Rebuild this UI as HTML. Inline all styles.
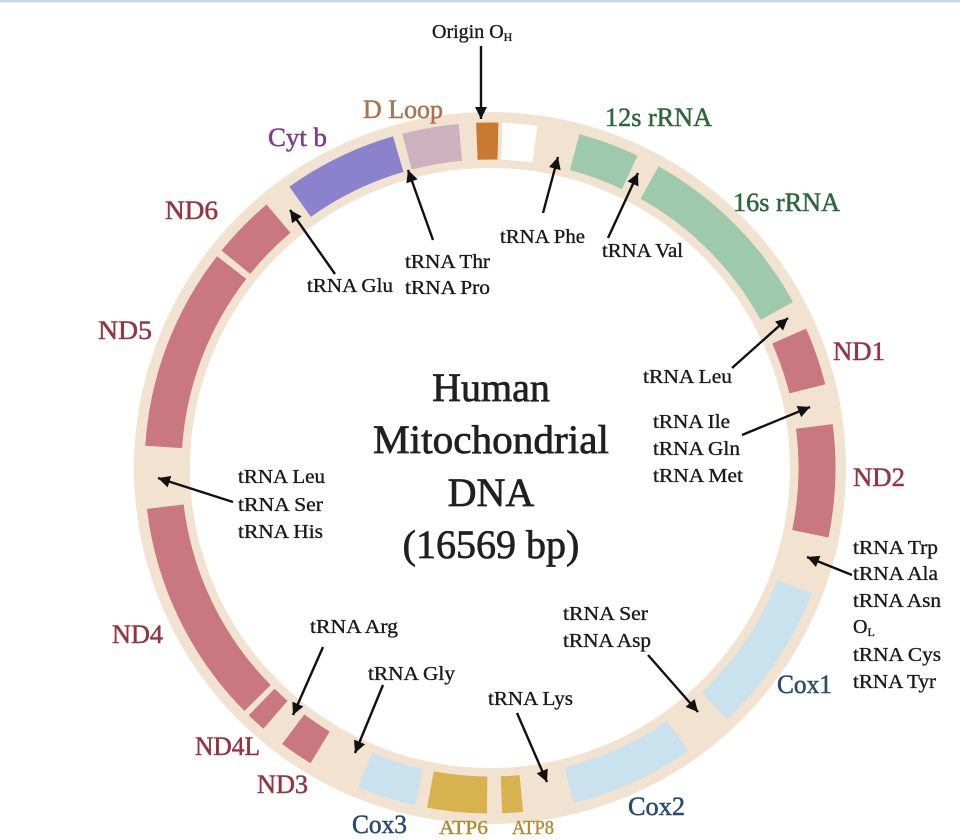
<!DOCTYPE html>
<html>
<head>
<meta charset="utf-8">
<style>
html,body{margin:0;padding:0;background:#fff;width:960px;height:840px;overflow:hidden;}
svg{display:block;}
text{font-family:"Liberation Serif",serif;}
.t{font-size:20px;fill:#1a1a1a;stroke:#1a1a1a;stroke-width:0.35px;}
.g{font-size:26px;stroke-width:0.5px;}
.nd{fill:#953442;stroke:#953442;}
.cx{fill:#284a6c;stroke:#284a6c;}
.rr{fill:#2c683a;stroke:#2c683a;}
.atp{fill:#b08a34;stroke:#b08a34;stroke-width:0.4px;font-size:20px;}
</style>
</head>
<body>
<svg width="960" height="840" viewBox="0 0 960 840" xmlns="http://www.w3.org/2000/svg">
<defs>
<marker id="ah" viewBox="0 0 10 10" refX="10" refY="5" markerWidth="14" markerHeight="12" markerUnits="userSpaceOnUse" orient="auto">
<path d="M0,0 L10,5 L0,10 z" fill="#111"/>
</marker>
</defs>
<rect x="0" y="0" width="960" height="840" fill="#fff"/>
<rect x="0" y="0" width="960" height="2.5" fill="#c8d8e6"/>

<!-- ring -->
<circle cx="490" cy="468" r="328" fill="none" stroke="#f2e3d1" stroke-width="56"/>

<!-- segments -->
<g fill="none" stroke-width="37">
<circle cx="490" cy="468" r="327" stroke="#c9782f" stroke-dasharray="21.12 3000" transform="rotate(-92.3 490 468)"/>
<circle cx="490" cy="468" r="327" stroke="#ffffff" stroke-dasharray="33.10 3000" transform="rotate(-87.9 490 468)"/>
<circle cx="490" cy="468" r="327" stroke="#cdb1be" stroke-dasharray="54.22 3000" transform="rotate(-104.7 490 468)"/>
<circle cx="490" cy="468" r="327" stroke="#8a82cc" stroke-dasharray="109.58 3000" transform="rotate(-125.5 490 468)"/>
<circle cx="490" cy="468" r="327" stroke="#c9787f" stroke-dasharray="61.07 3000" transform="rotate(-141 490 468)"/>
<circle cx="490" cy="468" r="327" stroke="#c9787f" stroke-dasharray="194.62 3000" transform="rotate(-176.3 490 468)"/>
<circle cx="490" cy="468" r="327" stroke="#c9787f" stroke-dasharray="216.30 3000" transform="rotate(-224.7 490 468)"/>
<circle cx="490" cy="468" r="327" stroke="#c9787f" stroke-dasharray="18.83 3000" transform="rotate(131 490 468)"/>
<circle cx="490" cy="468" r="327" stroke="#c9787f" stroke-dasharray="32.53 3000" transform="rotate(121.3 490 468)"/>
<circle cx="490" cy="468" r="327" stroke="#c9e2ee" stroke-dasharray="57.07 3000" transform="rotate(102.5 490 468)"/>
<circle cx="490" cy="468" r="327" stroke="#d8b24e" stroke-dasharray="57.07 3000" transform="rotate(90.5 490 468)"/>
<circle cx="490" cy="468" r="327" stroke="#d8b24e" stroke-dasharray="19.98 3000" transform="rotate(84.5 490 468)"/>
<circle cx="490" cy="468" r="327" stroke="#c9e2ee" stroke-dasharray="119.85 3000" transform="rotate(55 490 468)"/>
<circle cx="490" cy="468" r="327" stroke="#c9e2ee" stroke-dasharray="144.96 3000" transform="rotate(21.3 490 468)"/>
<circle cx="490" cy="468" r="327" stroke="#c9787f" stroke-dasharray="107.87 3000" transform="rotate(-7.3 490 468)"/>
<circle cx="490" cy="468" r="327" stroke="#c9787f" stroke-dasharray="55.93 3000" transform="rotate(-23.8 490 468)"/>
<circle cx="490" cy="468" r="327" stroke="#9fc9ad" stroke-dasharray="183.20 3000" transform="rotate(-60.8 490 468)"/>
<circle cx="490" cy="468" r="327" stroke="#9fc9ad" stroke-dasharray="58.78 3000" transform="rotate(-75 490 468)"/>
</g>

<!-- arrows -->
<g stroke="#111" stroke-width="2.4" marker-end="url(#ah)">
<line x1="481" y1="46" x2="481" y2="119"/>
<line x1="543" y1="213" x2="558" y2="157"/>
<line x1="608" y1="238" x2="638" y2="173"/>
<line x1="433" y1="240" x2="408" y2="170"/>
<line x1="335" y1="274" x2="290" y2="210"/>
<line x1="732" y1="368" x2="788" y2="318"/>
<line x1="742" y1="435" x2="810" y2="407"/>
<line x1="852" y1="575" x2="807" y2="557"/>
<line x1="648" y1="655" x2="698" y2="712"/>
<line x1="517" y1="713" x2="547" y2="782"/>
<line x1="383" y1="685" x2="355" y2="753"/>
<line x1="323" y1="647" x2="293" y2="715"/>
<line x1="233" y1="502" x2="158" y2="478"/>
</g>

<!-- title -->
<g font-size="40" fill="#202020" stroke="#202020" stroke-width="0.7" text-anchor="middle">
<text x="491" y="401">Human</text>
<text x="491" y="453" textLength="236" lengthAdjust="spacingAndGlyphs">Mitochondrial</text>
<text x="491" y="506">DNA</text>
<text x="491" y="558">(16569 bp)</text>
</g>

<!-- origin label -->
<text class="t" x="432" y="38">Origin O<tspan font-size="12" dy="3">H</tspan></text>

<!-- tRNA labels -->
<text class="t" x="307" y="292" textLength="86" lengthAdjust="spacingAndGlyphs">tRNA Glu</text>
<text class="t" x="405" y="268" textLength="85" lengthAdjust="spacingAndGlyphs">tRNA Thr</text>
<text class="t" x="405" y="294" textLength="85" lengthAdjust="spacingAndGlyphs">tRNA Pro</text>
<text class="t" x="500" y="243" textLength="85" lengthAdjust="spacingAndGlyphs">tRNA Phe</text>
<text class="t" x="602" y="257" textLength="81" lengthAdjust="spacingAndGlyphs">tRNA Val</text>
<text class="t" x="643" y="383" textLength="89" lengthAdjust="spacingAndGlyphs">tRNA Leu</text>
<text class="t" x="653" y="428" textLength="77" lengthAdjust="spacingAndGlyphs">tRNA Ile</text>
<text class="t" x="653" y="455" textLength="87" lengthAdjust="spacingAndGlyphs">tRNA Gln</text>
<text class="t" x="653" y="482" textLength="90" lengthAdjust="spacingAndGlyphs">tRNA Met</text>
<text class="t" x="853" y="554" textLength="85" lengthAdjust="spacingAndGlyphs">tRNA Trp</text>
<text class="t" x="853" y="580" textLength="85" lengthAdjust="spacingAndGlyphs">tRNA Ala</text>
<text class="t" x="853" y="607" textLength="88" lengthAdjust="spacingAndGlyphs">tRNA Asn</text>
<text class="t" x="853" y="633">O<tspan font-size="12" dy="3">L</tspan></text>
<text class="t" x="853" y="661" textLength="88" lengthAdjust="spacingAndGlyphs">tRNA Cys</text>
<text class="t" x="853" y="688" textLength="83" lengthAdjust="spacingAndGlyphs">tRNA Tyr</text>
<text class="t" x="563" y="620" textLength="85" lengthAdjust="spacingAndGlyphs">tRNA Ser</text>
<text class="t" x="563" y="647" textLength="88" lengthAdjust="spacingAndGlyphs">tRNA Asp</text>
<text class="t" x="488" y="705" textLength="85" lengthAdjust="spacingAndGlyphs">tRNA Lys</text>
<text class="t" x="368" y="680" textLength="87" lengthAdjust="spacingAndGlyphs">tRNA Gly</text>
<text class="t" x="310" y="633" textLength="88" lengthAdjust="spacingAndGlyphs">tRNA Arg</text>
<text class="t" x="238" y="483" textLength="87" lengthAdjust="spacingAndGlyphs">tRNA Leu</text>
<text class="t" x="238" y="511" textLength="85" lengthAdjust="spacingAndGlyphs">tRNA Ser</text>
<text class="t" x="238" y="538" textLength="85" lengthAdjust="spacingAndGlyphs">tRNA His</text>

<!-- gene labels -->
<text class="g nd" x="833" y="360" textLength="52" lengthAdjust="spacingAndGlyphs">ND1</text>
<text class="g nd" x="853" y="486" textLength="52" lengthAdjust="spacingAndGlyphs">ND2</text>
<text class="g nd" x="165" y="219" textLength="53" lengthAdjust="spacingAndGlyphs">ND6</text>
<text class="g nd" x="98" y="339" textLength="54" lengthAdjust="spacingAndGlyphs">ND5</text>
<text class="g nd" x="112" y="643" textLength="51" lengthAdjust="spacingAndGlyphs">ND4</text>
<text class="g nd" x="195" y="755" textLength="65" lengthAdjust="spacingAndGlyphs">ND4L</text>
<text class="g nd" x="257" y="793" textLength="51" lengthAdjust="spacingAndGlyphs">ND3</text>
<text class="g cx" x="352" y="833" textLength="55" lengthAdjust="spacingAndGlyphs">Cox3</text>
<text class="g cx" x="628" y="815" textLength="57" lengthAdjust="spacingAndGlyphs">Cox2</text>
<text class="g cx" x="777" y="693" textLength="55" lengthAdjust="spacingAndGlyphs">Cox1</text>
<text class="atp" x="439" y="834" textLength="49" lengthAdjust="spacingAndGlyphs">ATP6</text>
<text class="atp" x="512" y="834" textLength="42" lengthAdjust="spacingAndGlyphs">ATP8</text>
<text class="g rr" x="733" y="211" textLength="107" lengthAdjust="spacingAndGlyphs">16s rRNA</text>
<text class="g rr" x="605" y="126" textLength="107" lengthAdjust="spacingAndGlyphs">12s rRNA</text>
<text class="g" x="363" y="118" fill="#a8744f" stroke="#a8744f" textLength="80" lengthAdjust="spacingAndGlyphs">D Loop</text>
<text class="g" x="268" y="146" fill="#7c3d8c" stroke="#7c3d8c" textLength="59" lengthAdjust="spacingAndGlyphs">Cyt b</text>
</svg>
</body>
</html>
